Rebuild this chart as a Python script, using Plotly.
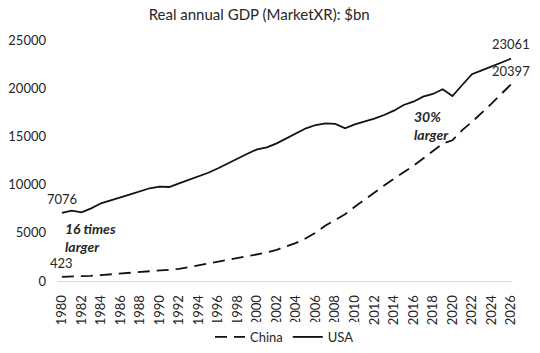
import plotly.graph_objects as go

years = list(range(1980, 2027))
usa = [7076, 7290, 7120, 7540, 8060, 8400, 8680, 8990, 9340, 9620,
       9780, 9750, 10130, 10480, 10890, 11230, 11690, 12210, 12730, 13200,
       13660, 13870, 14280, 14800, 15380, 15840, 16180, 16360, 16290, 15840,
       16250, 16530, 16840, 17220, 17670, 18260, 18600, 19120, 19400, 19890,
       19190, 20330, 21450, 21850, 22250, 22650, 23061]
china = [423, 450, 490, 540, 610, 690, 760, 840, 920, 970,
         1020, 1100, 1250, 1430, 1620, 1800, 1980, 2170, 2350, 2530,
         2730, 2950, 3240, 3580, 3950, 4430, 5020, 5750, 6330, 6920,
         7700, 8450, 9150, 9900, 10600, 11250, 11950, 12700, 13450, 14250,
         14600, 15650, 16500, 17400, 18400, 19400, 20397]
tick_years = list(range(1980, 2027, 2))
y_ticks = [0, 5000, 10000, 15000, 20000, 25000]

font = "Lato, 'Liberation Sans', sans-serif"
txt = "#262626"

fig = go.Figure()
fig.add_trace(go.Scatter(x=years, y=china, name="China", mode="lines",
                         line=dict(color="#111", width=1.8, dash="12px,7px")))
fig.add_trace(go.Scatter(x=years, y=usa, name="USA", mode="lines",
                         line=dict(color="#111", width=1.8)))

ann = dict(showarrow=False, font=dict(family=font, size=13, color=txt))
fig.add_annotation(x=years[0], y=usa[0], text=str(usa[0]), xanchor="center",
                   yanchor="bottom", yshift=4, **ann)
fig.add_annotation(x=years[0], y=china[0], text=str(china[0]), xanchor="center",
                   yanchor="bottom", yshift=4, **ann)
fig.add_annotation(x=years[-1], y=usa[-1], text=str(usa[-1]), xanchor="center",
                   yanchor="bottom", yshift=5, **ann)
fig.add_annotation(x=years[-1], y=china[-1], text=str(china[-1]), xanchor="center",
                   yanchor="bottom", yshift=3, **ann)
bold = dict(showarrow=False, font=dict(family=font, size=14, color=txt))
fig.add_annotation(x=1980.1, y=4510, text="<b><i>16 times<br>larger</i></b>", align="left",
                   xanchor="left", yanchor="middle", **bold)
fig.add_annotation(x=2015.86, y=16180, text="<b><i>30%<br>larger</i></b>", align="left",
                   xanchor="left", yanchor="middle", **bold)

fig.update_layout(
    width=540, height=353,
    margin=dict(l=57, r=28, t=40, b=72, autoexpand=False),
    paper_bgcolor="white", plot_bgcolor="white",
    title=dict(text="Real annual GDP (MarketXR): $bn", x=0.48, xanchor="center",
               y=0.958, yanchor="middle",
               font=dict(family=font, size=15, color=txt)),
    font=dict(family=font, size=13, color=txt),
    showlegend=True,
    legend=dict(orientation="h", x=0.5, xanchor="center", y=-0.17, yanchor="top",
                font=dict(family=font, size=13, color=txt), itemwidth=30,
                tracegroupgap=0),
    xaxis=dict(range=[1979.5, 2026.1], tickvals=tick_years, tickangle=-90,
               showgrid=False, zeroline=False, showline=True, linecolor="#d9d9d9",
               linewidth=1, ticks="", ticklabelstandoff=8, automargin=False,
               tickfont=dict(family=font, size=13, color=txt)),
    yaxis=dict(range=[0, 25000], tickvals=y_ticks, tickformat="d",
               showgrid=False, zeroline=False, showline=False, ticks="",
               ticklabelstandoff=10, automargin=False,
               tickfont=dict(family=font, size=13, color=txt)),
)
fig.write_html("out.html")
